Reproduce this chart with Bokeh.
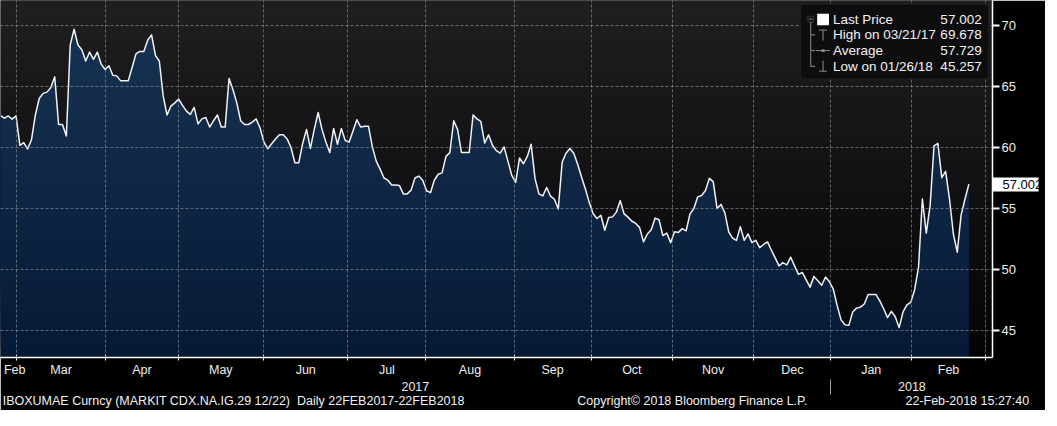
import numpy as np
from bokeh.plotting import figure
from bokeh.models import Range1d, FixedTicker, BoxAnnotation, Label, Arrow, LinearAxis
from bokeh.embed import file_html
from bokeh.resources import INLINE

# ---------------- data (daily, 22 Feb 2017 - 22 Feb 2018) ----------------
last_price = [
    62.60, 62.40, 62.58, 62.32, 62.60, 60.18, 60.39, 59.87, 60.63, 62.66,
    64.01, 64.43, 64.53, 64.90, 65.78, 61.88, 61.88, 60.94, 68.39, 69.678,
    68.39, 68.00, 67.08, 67.81, 67.21, 67.81, 66.82, 66.38, 66.69, 65.91,
    65.86, 65.47, 65.47, 65.47, 66.56, 67.68, 67.86, 67.86, 68.78, 69.22,
    67.53, 67.08, 64.22, 62.66, 63.39, 63.65, 63.96, 63.44, 62.97, 62.71,
    63.28, 61.93, 62.34, 62.45, 61.67, 62.19, 62.66, 61.67, 61.67, 65.65,
    64.74, 63.65, 62.19, 61.88, 61.88, 62.08,
    62.34, 61.61, 60.44, 59.90, 60.31, 60.70, 61.04, 61.04, 60.70, 60.00,
    58.75, 58.75, 60.31, 61.48, 59.92, 61.48, 62.86, 61.48, 60.44, 59.58,
    61.56, 60.26, 61.56, 60.57, 60.44, 61.35, 62.27, 61.67, 61.74, 61.74,
    60.05, 58.88, 58.23, 57.50, 57.32, 56.93, 56.93, 56.88, 56.20, 56.20,
    56.51, 57.50, 57.66, 57.32, 56.46, 56.30, 57.32,
    57.81, 57.92, 59.27, 59.58, 62.19, 61.48, 59.58, 59.58, 59.58, 62.66,
    62.34, 62.14, 60.36, 61.04, 60.18, 59.74, 59.53, 60.05, 58.88, 57.71,
    57.14, 59.14, 58.67, 59.27, 60.26, 57.45, 56.20, 56.04, 56.72, 56.02,
    55.76, 54.97, 58.80, 59.53, 59.92, 59.53, 58.62, 57.58, 56.61, 55.49,
    54.58, 54.19, 54.45, 53.23, 54.27, 54.32, 54.71,
    55.65, 54.56, 54.30, 53.96, 53.78, 53.44, 52.27, 52.92, 53.26, 54.22,
    54.09, 52.79, 53.00, 52.21, 53.10, 53.05, 53.36, 53.18, 54.56, 55.00,
    55.96, 56.07, 56.48, 57.47, 57.21, 55.00, 55.34, 54.66, 53.10, 52.58,
    52.40, 53.52, 52.40, 52.92, 52.21, 52.40, 51.80, 52.06, 52.27, 51.61,
    50.96, 50.31, 50.57, 50.39, 51.02, 50.31, 49.61,
    49.77, 49.17, 48.57, 49.45, 49.09, 48.72, 49.40, 49.01, 48.41, 47.06,
    45.89, 45.49, 45.44, 46.54, 46.85, 46.93, 47.19, 47.97, 47.97, 47.97,
    47.45, 46.80, 46.07, 46.59, 46.15, 45.257, 46.54, 47.11, 47.32, 48.36,
    50.18, 55.78, 52.99, 55.26, 60.13, 60.34, 57.53, 58.05, 55.78, 52.92,
    51.43, 54.48, 55.78, 57.002,
]

# month boundaries (trading-day index) and month names
month_bounds = [4.12, 27.15, 45.85, 67.9, 89.7, 109.8, 132.6, 152.5,
                173.5, 194.5, 214.4, 235.2, 254.3]
month_names = ["Feb", "Mar", "Apr", "May", "Jun", "Jul", "Aug", "Sep",
               "Oct", "Nov", "Dec", "Jan", "Feb"]
first_label_pos = 3.66
year_labels = ["2017", "2018"]
year_pos = [107.1, 235.3]
y_ticks = [45, 50, 55, 60, 65, 70]

legend_names = ["Last Price", "High on 03/21/17", "Average", "Low on 01/26/18"]
legend_values = ["57.002", "69.678", "57.729", "45.257"]

footer_texts = ["IBOXUMAE Curncy (MARKIT CDX.NA.IG.29 12/22)\u00a0\u00a0Daily 22FEB2017-22FEB2018",
                "Copyright\u00a9 2018 Bloomberg Finance L.P.",
                "22-Feb-2018 15:27:40"]
footer_pos = [60.2, 178.6, 249.6]

# ---------------- layout helpers ----------------
FONT = "Liberation Sans"
X0, X1 = 0.0, 256.1
Y0, Y1 = 42.81, 72.03
REF_W, REF_H = 1007.0, 374.0   # reference frame size in pixels


def rx(px):
    return X0 + px / REF_W * (X1 - X0)


def ry(py):
    return Y1 - py / REF_H * (Y1 - Y0)


def lerp(c0, c1, t):
    return "#%02x%02x%02x" % tuple(int(round(a + (b - a) * t)) for a, b in zip(c0, c1))


p = figure(frame_width=992, frame_height=357, output_backend="svg",
           toolbar_location=None, y_axis_location="right",
           x_range=Range1d(X0, X1), y_range=Range1d(Y0, Y1),
           min_border_left=0, min_border_top=0, min_border_right=49,
           min_border_bottom=53)
p.background_fill_color = "#000000"
p.border_fill_color = "#000000"
p.outline_line_color = None

# background gradient (dark grey to black)
BG_TOP, BG_BOT = (31, 31, 34), (4, 4, 7)
nb = 30
edges = np.linspace(Y0, Y1, nb + 1)
for k in range(nb):
    t = (k + 0.5) / nb
    p.add_layout(BoxAnnotation(bottom=edges[k], top=edges[k + 1] + 0.05,
                               fill_color=lerp(BG_BOT, BG_TOP, t), fill_alpha=1.0,
                               line_color=None, level="underlay"))

# area under the curve with a vertical navy gradient
x = np.arange(len(last_price), dtype=float)
y = np.array(last_price, dtype=float)


def with_crossings(xv, yv, L):
    xs, ys = [xv[0]], [yv[0]]
    for i in range(1, len(xv)):
        a, b = yv[i - 1], yv[i]
        if (a - L) * (b - L) < 0:
            t = (L - a) / (b - a)
            xs.append(xv[i - 1] + t * (xv[i] - xv[i - 1]))
            ys.append(L)
        xs.append(xv[i])
        ys.append(yv[i])
    return np.array(xs), np.array(ys)


N_TOP, N_BOT = (25, 52, 86), (5, 26, 52)
nl = 36
levels = np.linspace(Y0, Y1, nl + 1)[:-1]
for k, L in enumerate(levels):
    xs, ys = with_crossings(x, y, L)
    p.varea(x=xs, y1=L, y2=np.maximum(ys, L),
            fill_color=lerp(N_BOT, N_TOP, (k + 0.5) / nl), fill_alpha=1.0)

p.line(x, y, line_color="#f2f2f2", line_width=1.5, line_join="round")

# ---------------- axes & grid ----------------
TXT = "#eeeeee"
month_mids = [first_label_pos] + [round((a + b) / 2, 3) for a, b in zip(month_bounds[:-1], month_bounds[1:])]
xa = p.xaxis[0]
xa.ticker = FixedTicker(ticks=month_mids, minor_ticks=month_bounds)
xa.major_label_overrides = {m: n for m, n in zip(month_mids, month_names)}
xa.major_tick_in = 0
xa.major_tick_out = 0
xa.minor_tick_in = 3
xa.minor_tick_out = 3
xa.minor_tick_line_color = "white"
xa.axis_line_color = "white"
xa.axis_line_width = 1.5
xa.major_label_standoff = 2
xa.major_label_text_color = TXT
xa.major_label_text_font = FONT
xa.major_label_text_font_size = "12.5px"

# year row (with Dec/Jan separator drawn as a minor tick)
xb = LinearAxis(ticker=FixedTicker(ticks=year_pos, minor_ticks=[month_bounds[10]]),
                major_label_overrides={v: t for v, t in zip(year_pos, year_labels)},
                axis_line_color=None, major_tick_in=0, major_tick_out=0,
                minor_tick_in=0, minor_tick_out=15, minor_tick_line_color="#a0a0a0",
                major_label_standoff=-13, major_label_text_color=TXT,
                major_label_text_font=FONT, major_label_text_font_size="12.5px")
p.add_layout(xb, "below")

# footer row
xc = LinearAxis(ticker=FixedTicker(ticks=footer_pos, minor_ticks=[]),
                major_label_overrides={v: t for v, t in zip(footer_pos, footer_texts)},
                axis_line_color=None, major_tick_in=0, major_tick_out=0,
                minor_tick_in=0, minor_tick_out=0,
                major_label_standoff=0, major_label_text_color="#f2f2f2",
                major_label_text_font=FONT, major_label_text_font_size="12.5px")
p.add_layout(xc, "below")

# main right axis: wedge ticks, numbers, and the white last-price bar (minor tick)
last = last_price[-1]
ya = p.yaxis[0]
ya.ticker = FixedTicker(ticks=y_ticks, minor_ticks=[last])
ya.major_tick_in = 0
ya.major_tick_out = 7
ya.major_tick_line_width = 2
ya.major_tick_line_color = "white"
ya.minor_tick_in = 0
ya.minor_tick_out = 46
ya.minor_tick_line_width = 14
ya.minor_tick_line_color = "white"
ya.axis_line_color = "white"
ya.axis_line_width = 1.5
ya.major_label_standoff = -37
ya.major_label_text_color = TXT
ya.major_label_text_font = FONT
ya.major_label_text_font_size = "13px"

# outer right axis: the last-price value in black on the white bar
yb = LinearAxis(ticker=FixedTicker(ticks=[last], minor_ticks=[]),
                major_label_overrides={last: legend_values[0]},
                axis_line_color=None, major_tick_in=0, major_tick_out=0,
                minor_tick_in=0, minor_tick_out=0,
                major_label_standoff=-16, major_label_text_color="black",
                major_label_text_font=FONT, major_label_text_font_size="13px")
p.add_layout(yb, "right")

p.xgrid.ticker = FixedTicker(ticks=month_bounds)
for g in (p.xgrid, p.ygrid):
    g.grid_line_color = "#9a9a9a"
    g.grid_line_alpha = 0.6
    g.grid_line_dash = "3 2"
    g.grid_line_width = 1
    g.level = "guide"

# ---------------- legend box ----------------
GRAY = "#8c8c8c"
p.add_layout(BoxAnnotation(left=rx(812), right=rx(1003), top=ry(4), bottom=ry(82),
                           fill_color="#0d0d10", fill_alpha=1.0,
                           line_color="#3a3a3e", line_width=1, border_radius=4))


def seg(x0, y0, x1, y1, color=GRAY, w=1):
    p.add_layout(Arrow(x_start=rx(x0), y_start=ry(y0), x_end=rx(x1), y_end=ry(y1),
                       start=None, end=None, line_color=color, line_width=w))


row_y = [20, 36, 52.5, 69]
p.add_layout(BoxAnnotation(left=rx(819.5), right=rx(825.5), top=ry(16.5), bottom=ry(22.5),
                           fill_alpha=0, line_color=GRAY, line_width=1))
seg(820.5, 19.5, 824.5, 19.5)
seg(822.5, 22.5, 822.5, row_y[3])
for yy in row_y[1:]:
    seg(822.5, yy, 827, yy)
p.add_layout(BoxAnnotation(left=rx(829), right=rx(841), top=ry(14), bottom=ry(26),
                           fill_color="white", fill_alpha=1.0, line_color=None))
seg(835, 31, 835, 42)
seg(831, 31, 839, 31)
seg(828, 52.5, 842, 52.5)
p.add_layout(BoxAnnotation(left=rx(833.5), right=rx(836.5), top=ry(51), bottom=ry(54),
                           fill_color=GRAY, fill_alpha=1.0, line_color=None))
seg(835, 63, 835, 74)
seg(831, 74, 839, 74)

for name, val, yy in zip(legend_names, legend_values, row_y):
    p.add_layout(Label(x=rx(845), y=ry(yy), text=name, text_align="left",
                       text_baseline="middle", text_color="#f2f2f2",
                       text_font=FONT, text_font_size="13.5px"))
    p.add_layout(Label(x=rx(996), y=ry(yy), text=val, text_align="right",
                       text_baseline="middle", text_color="#f2f2f2",
                       text_font=FONT, text_font_size="13.5px"))

open("out.html", "w").write(file_html(p, INLINE))
